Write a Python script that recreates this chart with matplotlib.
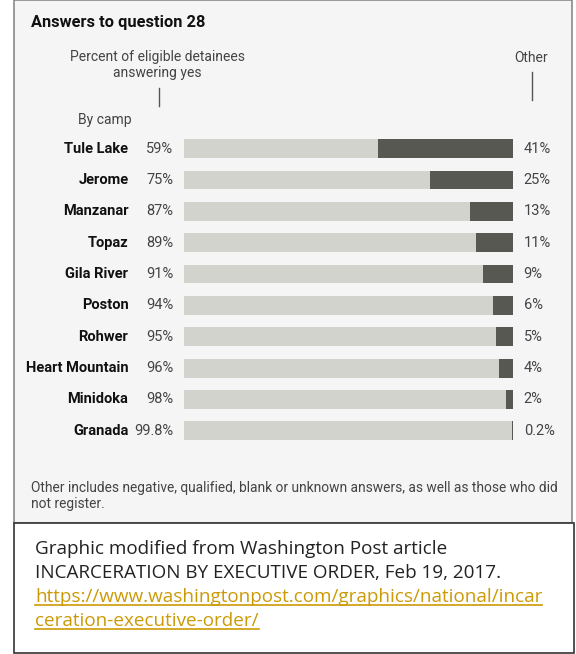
import matplotlib.pyplot as plt
from matplotlib.patches import Rectangle
from matplotlib.lines import Line2D

# data
camps = ['Tule Lake', 'Jerome', 'Manzanar', 'Topaz', 'Gila River',
         'Poston', 'Rohwer', 'Heart Mountain', 'Minidoka', 'Granada']
yes_pct = [59, 75, 87, 89, 91, 94, 95, 96, 98, 99.8]
other_pct = [41, 25, 13, 11, 9, 6, 5, 4, 2, 0.2]
yes_labels = ['59%', '75%', '87%', '89%', '91%', '94%', '95%', '96%', '98%', '99.8%']
other_labels = ['41%', '25%', '13%', '11%', '9%', '6%', '5%', '4%', '2%', '0.2%']

W, H = 576, 654
fig = plt.figure(figsize=(W / 100, H / 100), dpi=100)
fig.patch.set_facecolor('white')

def fx(x):
    return x / W

def fy(y):
    return 1 - y / H

chart_font = ['Roboto', 'DejaVu Sans']
note_font = ['Open Sans', 'DejaVu Sans']

# panel backgrounds
fig.patches.append(Rectangle((fx(14), fy(523)), fx(572) - fx(14), fy(0) - fy(523),
                             transform=fig.transFigure, facecolor='#f5f5f5',
                             edgecolor='#8a8a8a', lw=1.2, zorder=-2))
fig.patches.append(Rectangle((fx(14), fy(653)), fx(574) - fx(14), fy(523) - fy(653),
                             transform=fig.transFigure, facecolor='white',
                             edgecolor='#333333', lw=1.2, zorder=-2))

# bars
top, bottom = 133, 446.5
ax = fig.add_axes([fx(184), fy(bottom), fx(512.5) - fx(184), (bottom - top) / H])
ax.set_zorder(2)
ax.set_facecolor('none')
ypos = list(range(len(camps)))
ax.barh(ypos, yes_pct, height=0.6, color='#d3d3ce')
ax.barh(ypos, other_pct, left=yes_pct, height=0.6, color='#585853')
ax.set_xlim(0, 100)
ax.set_ylim(len(camps) - 0.5, -0.5)
ax.axis('off')

for i in ypos:
    ax.text(-16.9, i, camps[i], ha='right', va='center', fontsize=10.5,
            fontweight='bold', color='#111111', family=chart_font, clip_on=False)
    ax.text(-3.2, i, yes_labels[i], ha='right', va='center', fontsize=10.5,
            color='#444444', family=chart_font, clip_on=False)
    ax.text(103.4, i, other_labels[i], ha='left', va='center', fontsize=10.5,
            color='#444444', family=chart_font, clip_on=False)

# headers
fig.text(fx(31), fy(22), 'Answers to question 28', ha='left', va='center',
         fontsize=11.8, fontweight='bold', color='#111111', family=chart_font)
fig.text(fx(157), fy(65), 'Percent of eligible detainees\nanswering yes', ha='center',
         va='center', fontsize=10, color='#444444', family=chart_font, linespacing=1.2)
fig.lines.append(Line2D([fx(159), fx(159)], [fy(88), fy(106)], transform=fig.transFigure,
                        color='#555555', lw=1))
fig.text(fx(531), fy(58), 'Other', ha='center', va='center', fontsize=10,
         color='#444444', family=chart_font)
fig.lines.append(Line2D([fx(532), fx(532)], [fy(72), fy(100)], transform=fig.transFigure,
                        color='#555555', lw=1))
fig.text(fx(78), fy(120), 'By camp', ha='left', va='center', fontsize=10,
         color='#444444', family=chart_font)

# footnote
fig.text(fx(31), fy(496), 'Other includes negative, qualified, blank or unknown answers, as well as those who did\nnot register.',
         ha='left', va='center', fontsize=9.9, color='#444444', family=chart_font, linespacing=1.2)

# source box
fig.text(fx(35), fy(549), 'Graphic modified from Washington Post article', ha='left', va='center',
         fontsize=13.6, color='#222222', family=note_font)
fig.text(fx(35), fy(573), 'INCARCERATION BY EXECUTIVE ORDER, Feb 19, 2017.', ha='left', va='center',
         fontsize=13.6, color='#222222', family=note_font)
link1 = fig.text(fx(35), fy(597), 'https://www.washingtonpost.com/graphics/national/incar',
                 ha='left', va='center', fontsize=13.6, color='#cc9a06', family=note_font)
link2 = fig.text(fx(35), fy(621), 'ceration-executive-order/', ha='left', va='center',
                 fontsize=13.6, color='#cc9a06', family=note_font)

# underline the link text
fig.canvas.draw()
r = fig.canvas.get_renderer()
for t in [link1, link2]:
    bb = t.get_window_extent(r).transformed(fig.transFigure.inverted())
    fig.lines.append(Line2D([bb.x0, bb.x1], [bb.y0 + 0.002, bb.y0 + 0.002],
                            transform=fig.transFigure, color='#cc9a06', lw=1.2))

fig.savefig('out.png', dpi=100)
